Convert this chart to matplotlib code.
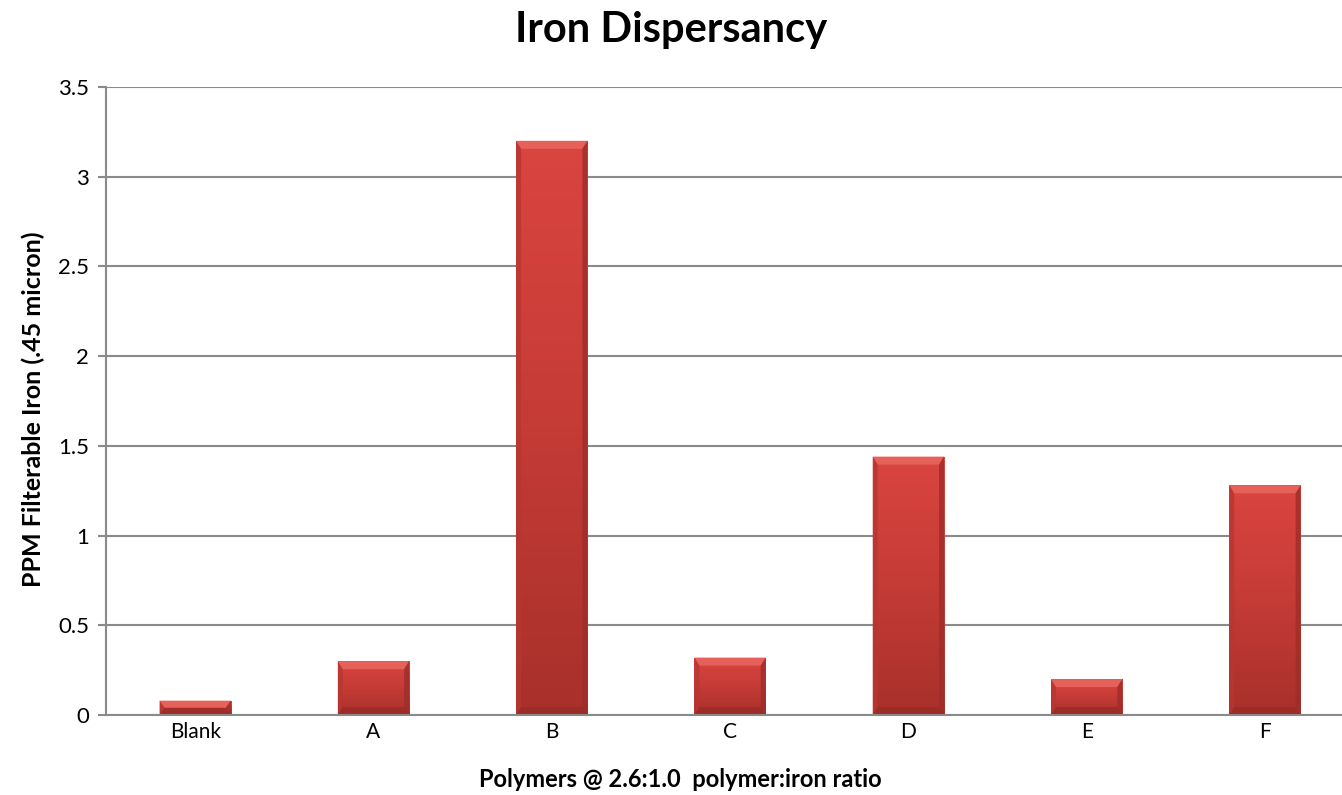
import numpy as np
import matplotlib.pyplot as plt
from matplotlib.patches import Polygon
from matplotlib.colors import LinearSegmentedColormap

# ---------- data ----------
categories = ['Blank', 'A', 'B', 'C', 'D', 'E', 'F']
ppm_iron = [0.08, 0.30, 3.20, 0.32, 1.44, 0.20, 1.28]

plt.rcParams['font.family'] = ['Lato', 'DejaVu Sans']

fig = plt.figure(figsize=(13.42, 7.95), dpi=100)
# plot area runs a little past the right edge of the figure
ax = fig.add_axes([0.079, 0.1006, 0.93, 0.79])

x = np.arange(len(categories))
width = 0.40
ax.set_xlim(-0.5, len(categories) - 0.5)
ax.set_ylim(0, 3.5)

bars = ax.bar(x, ppm_iron, width, color='#c93a35', edgecolor='none', zorder=2)

# vertical gradient for the bar bodies
body_cmap = LinearSegmentedColormap.from_list('body', ['#a8302b', '#c53b36', '#da4540'])
grad = np.linspace(0, 1, 256).reshape(-1, 1)

# bevel size in data units (pixels converted through the axes transform)
fig.canvas.draw()
inv = ax.transData.inverted()
p0 = inv.transform((0, 0))
p1 = inv.transform((5, 8))
bx, by = p1[0] - p0[0], p1[1] - p0[1]

for rect in bars:
    x0, y0 = rect.get_x(), rect.get_y()
    w, h = rect.get_width(), rect.get_height()
    x1, y1 = x0 + w, y0 + h
    im = ax.imshow(grad, extent=(x0, x1, y0, y1), origin='lower', cmap=body_cmap,
                   aspect='auto', zorder=3)
    im.set_clip_path(rect)
    b_y = min(by, h / 2)
    # top bevel (highlight)
    ax.add_patch(Polygon([(x0, y1), (x1, y1), (x1 - bx, y1 - b_y), (x0 + bx, y1 - b_y)],
                         closed=True, facecolor='#e5615a', edgecolor='none', zorder=4))
    # left bevel
    ax.add_patch(Polygon([(x0, y0), (x0 + bx, y0 + b_y), (x0 + bx, y1 - b_y), (x0, y1)],
                         closed=True, facecolor='#b83631', edgecolor='none', zorder=4,
                         alpha=0.8))
    # right bevel
    ax.add_patch(Polygon([(x1, y0), (x1 - bx, y0 + b_y), (x1 - bx, y1 - b_y), (x1, y1)],
                         closed=True, facecolor='#9e2d29', edgecolor='none', zorder=4,
                         alpha=0.8))
    # bottom bevel
    ax.add_patch(Polygon([(x0, y0), (x1, y0), (x1 - bx, y0 + b_y), (x0 + bx, y0 + b_y)],
                         closed=True, facecolor='#9a2b27', edgecolor='none', zorder=4,
                         alpha=0.8))

# ---------- axes styling ----------
ax.set_yticks(np.arange(0, 3.51, 0.5))
ax.set_yticklabels(['0', '0.5', '1', '1.5', '2', '2.5', '3', '3.5'])
ax.yaxis.grid(True, color='#8a8a8a', linewidth=1.5, zorder=0)
ax.set_axisbelow(True)

ax.set_xticks(x)
ax.set_xticklabels(categories)
ax.tick_params(axis='x', length=0, labelsize=15, pad=5)
ax.tick_params(axis='y', length=6, width=1.5, color='#8a8a8a', labelsize=16, pad=6)

for side in ['top', 'right']:
    ax.spines[side].set_visible(False)
for side in ['left', 'bottom']:
    ax.spines[side].set_color('#8a8a8a')
    ax.spines[side].set_linewidth(1.5)
ax.spines['bottom'].set_zorder(5)

fig.text(0.5, 0.962, 'Iron Dispersancy', ha='center', va='center',
         fontsize=30, fontweight='bold')
fig.text(0.507, 0.019, 'Polymers @ 2.6:1.0  polymer:iron ratio', ha='center',
         va='center', fontsize=17, fontweight='bold')
fig.text(0.025, 0.485, 'PPM Filterable Iron (.45 micron)', ha='center',
         va='center', rotation=90, fontsize=18, fontweight='bold')

fig.savefig('out.png', dpi=100, facecolor='white')
